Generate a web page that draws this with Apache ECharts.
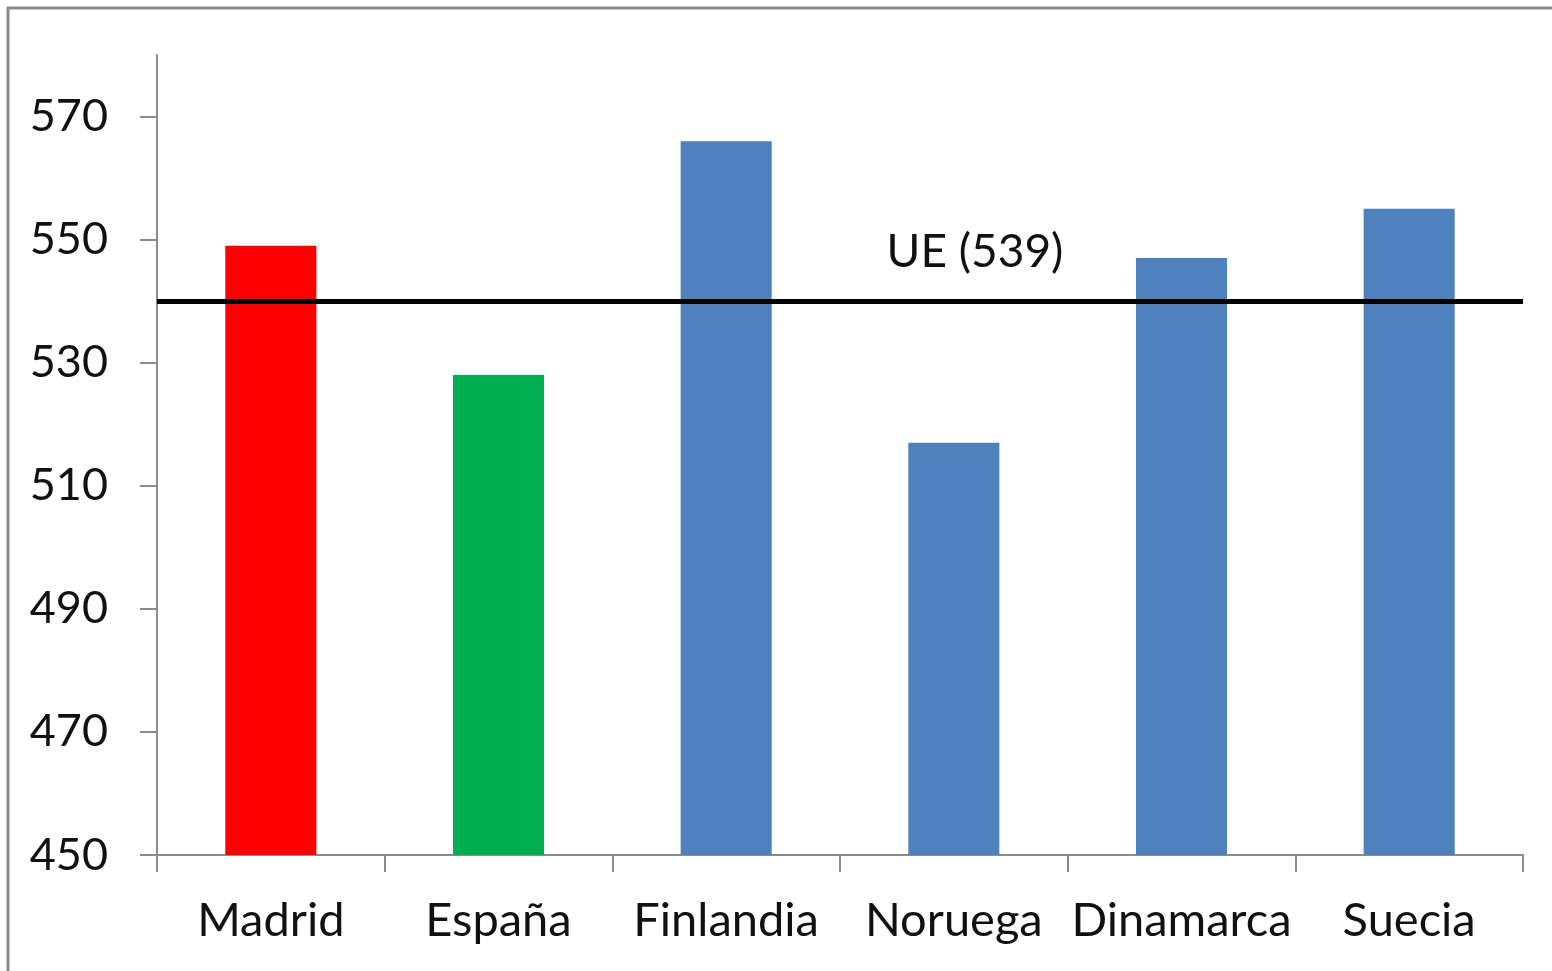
<!DOCTYPE html>
<html>
<head>
    <meta charset="UTF-8">
    <title>UE</title>
    <script src="https://cdn.jsdelivr.net/npm/echarts@6/dist/echarts.min.js"></script>
    <style>
        html, body { margin: 0; padding: 0; background: #fff; }
    </style>
</head>
<body>
    <div id="main" style="width:1552px;height:971px;"></div>
    <script>
        // datos
        var categories = ['Madrid', 'España', 'Finlandia', 'Noruega', 'Dinamarca', 'Suecia'];
        var values = [549, 528, 566, 517, 547, 555];
        var barColors = ['#FF0000', '#00B050', '#4F81BD', '#4F81BD', '#4F81BD', '#4F81BD'];
        var yTicks = [450, 470, 490, 510, 530, 550, 570];
        var ueLevel = 540;          // posición de la línea en el dibujo
        var ueLabel = 'UE (539)';

        var chart = echarts.init(document.getElementById('main'));
        var font = 'Lato';
        var axisGrey = '#8c8c8c';

        var option = {
            animation: false,
            backgroundColor: '#fff',
            graphic: [{
                type: 'rect',
                shape: { x: 8, y: 8, width: 1600, height: 1000 },
                style: { fill: 'none', stroke: '#8a8a8a', lineWidth: 3 },
                silent: true
            }],
            grid: { left: 157, right: 29, top: 55, bottom: 116 },
            xAxis: {
                type: 'category',
                data: categories,
                axisLine: { lineStyle: { color: axisGrey, width: 2 } },
                axisTick: { show: true, interval: 0, length: 17, lineStyle: { color: axisGrey, width: 2 } },
                axisLabel: { interval: 0, color: '#111', fontFamily: font, fontSize: 47, margin: 42 }
            },
            yAxis: {
                type: 'value',
                min: 450,
                max: 580,
                interval: 10,
                splitLine: { show: false },
                axisLine: { show: true, lineStyle: { color: axisGrey, width: 2 } },
                axisTick: { show: true, length: 17, customValues: yTicks, lineStyle: { color: axisGrey, width: 2 } },
                axisLabel: { color: '#111', fontFamily: font, fontSize: 45, margin: 49, customValues: yTicks }
            },
            series: [{
                type: 'bar',
                barWidth: '40%',
                data: values.map(function (v, i) {
                    return { value: v, itemStyle: { color: barColors[i] } };
                }),
                markLine: {
                    silent: true,
                    symbol: ['none', 'none'],
                    lineStyle: { color: '#000', width: 5, type: 'solid' },
                    label: {
                        show: true,
                        position: 'insideMiddleTop',
                        formatter: ueLabel,
                        color: '#111',
                        fontFamily: font,
                        fontSize: 46,
                        distance: 26,
                        padding: [0, 0, 0, 270]
                    },
                    data: [{ yAxis: ueLevel }]
                }
            }]
        };
        chart.setOption(option);
    </script>
</body>
</html>
